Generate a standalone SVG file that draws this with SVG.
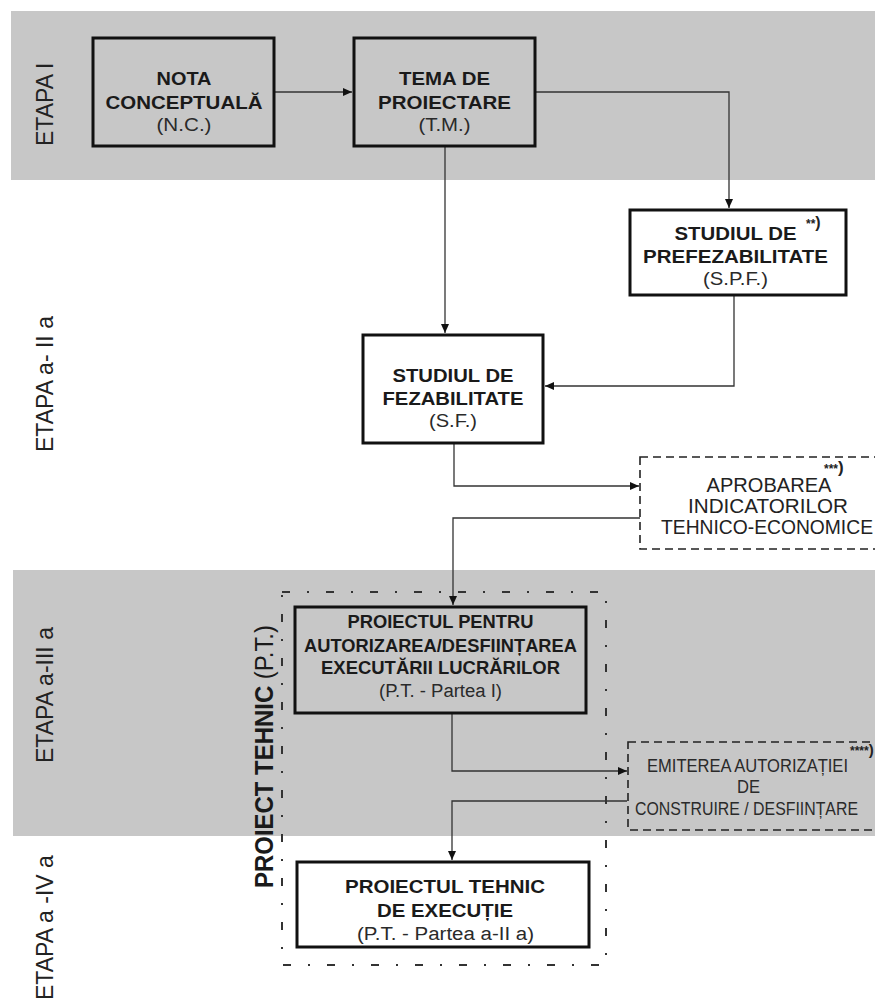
<svg xmlns="http://www.w3.org/2000/svg" width="875" height="1001" viewBox="0 0 875 1001">
<style>
.band{fill:#c7c7c7}
.box{fill:none;stroke:#111;stroke-width:3}
.dbox{fill:none;stroke:#222;stroke-width:1.6;stroke-dasharray:8 5}
.ddot{fill:none;stroke:#333;stroke-width:2;stroke-dasharray:8 17 2 17}
.con{fill:none;stroke:#333;stroke-width:1.3}
.b{font-family:"Liberation Sans",Arial,sans-serif;font-weight:bold;font-size:18px;fill:#1a1a1a;text-anchor:middle}
.r{font-family:"Liberation Sans",Arial,sans-serif;font-size:18px;fill:#2a2a2a;text-anchor:middle}
.r2{font-family:"Liberation Sans",Arial,sans-serif;font-size:20px;fill:#222;text-anchor:middle}
.et{font-family:"Liberation Sans",Arial,sans-serif;font-size:23px;fill:#222}
.sup{font-family:"Liberation Sans",Arial,sans-serif;font-weight:bold;font-size:12px;fill:#222}
</style>
<defs>
<marker id="ah" markerUnits="userSpaceOnUse" markerWidth="9" markerHeight="8" refX="9" refY="4" orient="auto">
<path d="M0,0 L9,4 L0,8 z" fill="#111"/>
</marker>
</defs>
<rect width="875" height="1001" fill="#fff"/>
<g id="bands">
<rect class="band" x="11" y="11" width="864" height="169"/>
<rect class="band" x="13" y="570" width="862" height="266"/>
</g>
<g id="stage-labels">
<text class="et" transform="translate(53,146) rotate(-90)">ETAPA I</text>
<text class="et" transform="translate(53,452) rotate(-90)">ETAPA a- II a</text>
<text class="et" transform="translate(53,763) rotate(-90)">ETAPA a-III a</text>
<text class="et" transform="translate(53,1000) rotate(-90)">ETAPA a -IV a</text>
</g>
<g id="pt-group">
<path class="ddot" d="M282,592 H606 V965 H282 Z"/>
<text transform="translate(273,888) rotate(-90)" font-family="Liberation Sans, Arial, sans-serif" font-size="25" fill="#1a1a1a" textLength="263" lengthAdjust="spacingAndGlyphs"><tspan font-weight="bold">PROIECT TEHNIC</tspan> (P.T.)</text>
</g>
<g id="connectors">
<path class="con" d="M274,92 H352" marker-end="url(#ah)"/>
<path class="con" d="M535,92 H729 V208" marker-end="url(#ah)"/>
<path class="con" d="M445,146 V333" marker-end="url(#ah)"/>
<path class="con" d="M734,295 V386 H545" marker-end="url(#ah)"/>
<path class="con" d="M454,443 V486 H639" marker-end="url(#ah)"/>
<path class="con" d="M640,518 H453 V605" marker-end="url(#ah)"/>
<path class="con" d="M452,713 V771 H627" marker-end="url(#ah)"/>
<path class="con" d="M627,801 H452 V860" marker-end="url(#ah)"/>
</g>
<g id="nc">
<rect class="box" x="93" y="38" width="181" height="108"/>
<text class="b" x="184" y="85" textLength="55" lengthAdjust="spacingAndGlyphs">NOTA</text>
<text class="b" x="184" y="109" textLength="157" lengthAdjust="spacingAndGlyphs">CONCEPTUALĂ</text>
<text class="r" x="184" y="131" textLength="55" lengthAdjust="spacingAndGlyphs">(N.C.)</text>
</g>
<g id="tm">
<rect class="box" x="354" y="38" width="181" height="108"/>
<text class="b" x="444.5" y="85" textLength="91" lengthAdjust="spacingAndGlyphs">TEMA DE</text>
<text class="b" x="444.5" y="109" textLength="133" lengthAdjust="spacingAndGlyphs">PROIECTARE</text>
<text class="r" x="444.5" y="131" textLength="52" lengthAdjust="spacingAndGlyphs">(T.M.)</text>
</g>
<g id="spf">
<rect class="box" x="630" y="210" width="216" height="85"/>
<text class="b" x="735.5" y="240" textLength="122" lengthAdjust="spacingAndGlyphs">STUDIUL DE</text>
<text class="sup" x="806" y="228">**<tspan font-size="16">)</tspan></text>
<text class="b" x="735.5" y="263" textLength="185" lengthAdjust="spacingAndGlyphs">PREFEZABILITATE</text>
<text class="r" x="735.5" y="285" textLength="65" lengthAdjust="spacingAndGlyphs">(S.P.F.)</text>
</g>
<g id="sf">
<rect class="box" x="363" y="335" width="180" height="108"/>
<text class="b" x="453" y="382" textLength="121" lengthAdjust="spacingAndGlyphs">STUDIUL DE</text>
<text class="b" x="453" y="405" textLength="141" lengthAdjust="spacingAndGlyphs">FEZABILITATE</text>
<text class="r" x="453" y="427" textLength="48" lengthAdjust="spacingAndGlyphs">(S.F.)</text>
</g>
<g id="aprobare">
<rect class="dbox" x="640" y="457" width="250" height="92"/>
<text class="r2" x="769" y="492" textLength="125" lengthAdjust="spacingAndGlyphs">APROBAREA</text>
<text class="sup" x="824" y="473">***<tspan font-size="17">)</tspan></text>
<text class="r2" x="768" y="513" textLength="160" lengthAdjust="spacingAndGlyphs">INDICATORILOR</text>
<text class="r2" x="767" y="534" textLength="212" lengthAdjust="spacingAndGlyphs">TEHNICO-ECONOMICE</text>
</g>
<g id="pt1">
<rect class="box" x="295" y="607" width="291" height="106"/>
<text class="b" x="440.5" y="628" textLength="186" lengthAdjust="spacingAndGlyphs">PROIECTUL PENTRU</text>
<text class="b" x="440.5" y="652" textLength="273" lengthAdjust="spacingAndGlyphs">AUTORIZAREA/DESFIINȚAREA</text>
<text class="b" x="440.5" y="674" textLength="239" lengthAdjust="spacingAndGlyphs">EXECUTĂRII LUCRĂRILOR</text>
<text class="r" x="440.5" y="697" textLength="123" lengthAdjust="spacingAndGlyphs">(P.T. - Partea I)</text>
</g>
<g id="emitere">
<rect class="dbox" x="628" y="742" width="260" height="88"/>
<text class="r" x="747.5" y="772" textLength="201" lengthAdjust="spacingAndGlyphs">EMITEREA  AUTORIZAȚIEI</text>
<text class="sup" x="850" y="755" font-size="10">****<tspan font-size="15">)</tspan></text>
<text class="r" x="748.5" y="793" textLength="23" lengthAdjust="spacingAndGlyphs">DE</text>
<text class="r" x="746.5" y="815" textLength="223" lengthAdjust="spacingAndGlyphs">CONSTRUIRE / DESFIINȚARE</text>
</g>
<g id="pt2">
<rect class="box" x="297" y="862" width="292" height="85"/>
<text class="b" x="445" y="893" textLength="200" lengthAdjust="spacingAndGlyphs">PROIECTUL TEHNIC</text>
<text class="b" x="445" y="917" textLength="136" lengthAdjust="spacingAndGlyphs">DE EXECUȚIE</text>
<text class="r" x="445.5" y="940" textLength="177" lengthAdjust="spacingAndGlyphs">(P.T. - Partea a-II a)</text>
</g>
</svg>
